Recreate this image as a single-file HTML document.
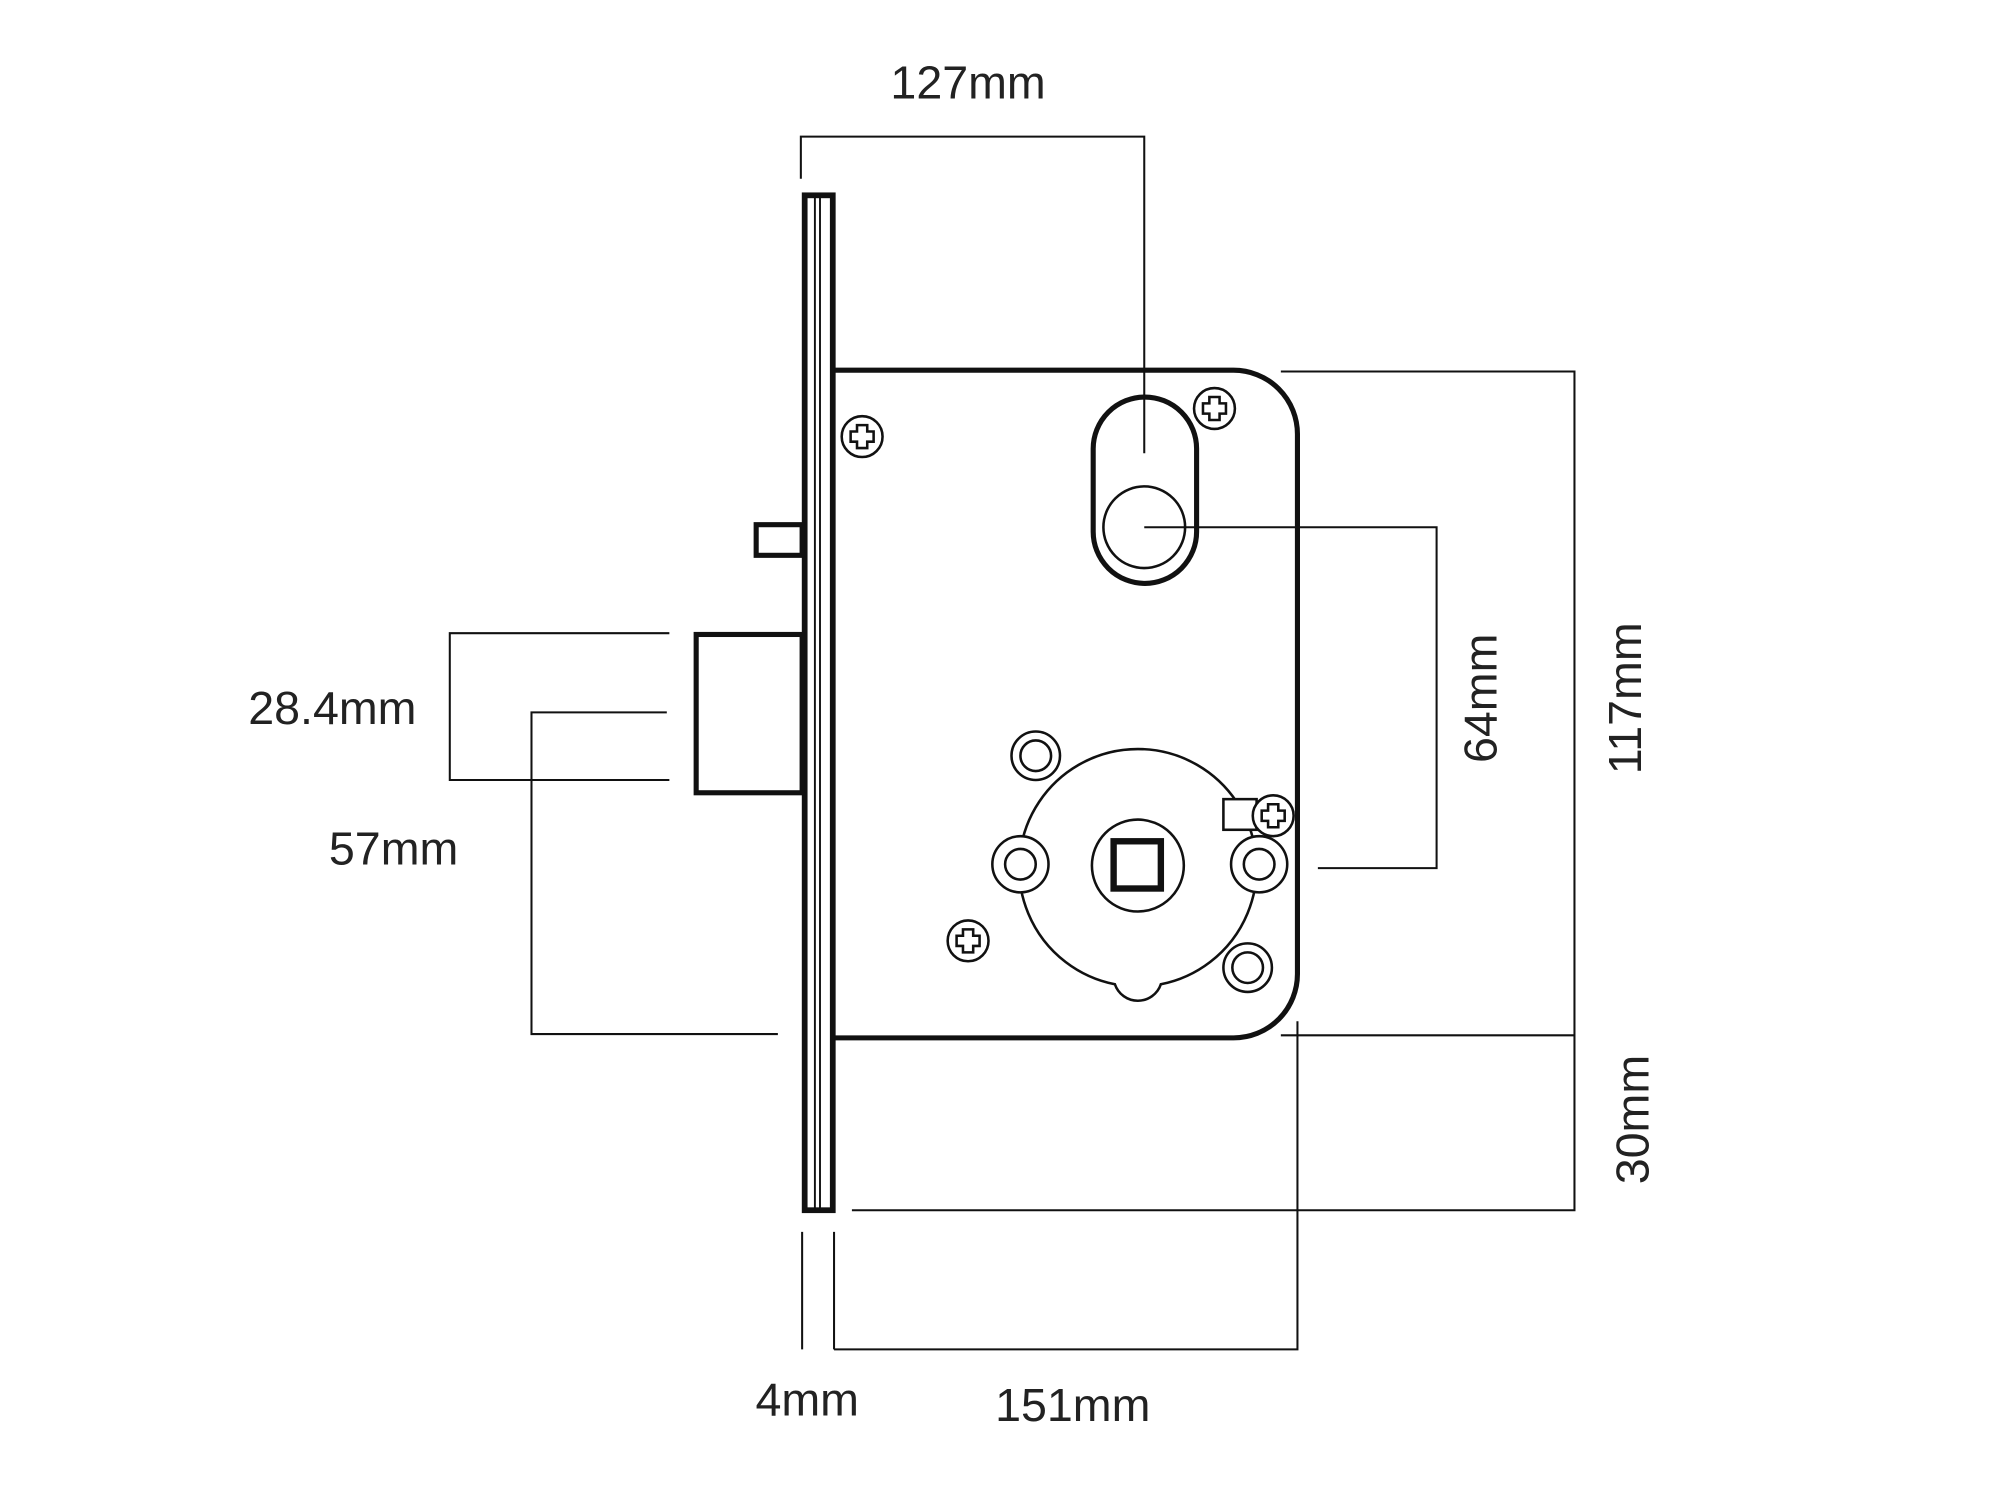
<!DOCTYPE html>
<html><head><meta charset="utf-8"><style>
html,body{margin:0;padding:0;background:#fff;}
svg{display:block;}
text{font-family:"Liberation Sans",sans-serif;fill:#222;font-size:36.5px;}
</style></head><body>
<svg width="2000" height="1500" viewBox="0 0 1566 1175" xmlns="http://www.w3.org/2000/svg">
<g fill="none" stroke="#111">
<g stroke-width="1.6">
<polyline points="627,140 627,107 896,107 896,355"/>
<polyline points="896,413 1125,413 1125,680 1032,680"/>
<polyline points="1003,291 1233,291 1233,948 667,948"/>
<line x1="1003" y1="811" x2="1233" y2="811"/>
<polyline points="1016,800 1016,1057 653,1057"/>
<line x1="628" y1="965" x2="628" y2="1057"/>
<line x1="653" y1="965" x2="653" y2="1057"/>
<polyline points="524,496 352,496 352,611 524,611"/>
<polyline points="522,558 416,558 416,810 609,810"/>
</g>
<rect x="630" y="153" width="22" height="795" stroke-width="4.5"/>
<line x1="638" y1="153" x2="638" y2="948" stroke-width="1.5"/>
<line x1="642" y1="153" x2="642" y2="948" stroke-width="1.5"/>
<path d="M653,290 L966,290 A50,50 0 0 1 1016,340 L1016,763 A50,50 0 0 1 966,813 L653,813" stroke-width="4"/>
<rect x="592" y="411" width="36" height="24" stroke-width="4"/>
<rect x="545" y="497" width="83" height="124" stroke-width="4"/>
<rect x="856" y="311" width="81" height="146" rx="40.5" stroke-width="4"/>
<circle cx="896" cy="413" r="32" stroke-width="2"/>
<path d="M873,771 A93,93 0 1 1 909,771 A19,19 0 0 1 873,771 Z" stroke-width="2"/>
<circle cx="891" cy="678" r="36" stroke-width="2"/>
<rect x="872" y="659" width="37" height="37" stroke-width="5"/>
<g stroke-width="2" fill="#fff">
<circle cx="811" cy="592" r="19"/><circle cx="811" cy="592" r="12"/>
<circle cx="799" cy="677" r="22"/><circle cx="799" cy="677" r="12"/>
<circle cx="986" cy="677" r="22"/><circle cx="986" cy="677" r="12"/>
<circle cx="977" cy="758" r="19"/><circle cx="977" cy="758" r="12"/>
<rect x="958" y="626" width="26" height="24"/>
</g>
<g stroke-width="2" fill="#fff">
<circle cx="675" cy="342" r="16"/>
<circle cx="951" cy="320" r="16"/>
<circle cx="758" cy="737" r="16"/>
<circle cx="997" cy="639" r="16"/>
</g>
<g stroke-width="2">
<path d="M671,333h8v5h5v8h-5v5h-8v-5h-5v-8h5z"/>
<path d="M947,311h8v5h5v8h-5v5h-8v-5h-5v-8h5z"/>
<path d="M754,728h8v5h5v8h-5v5h-8v-5h-5v-8h5z"/>
<path d="M993,630h8v5h5v8h-5v5h-8v-5h-5v-8h5z"/>
</g>
</g>
<text x="758" y="77" text-anchor="middle">127mm</text>
<text x="260" y="567" text-anchor="middle">28.4mm</text>
<text x="308" y="677" text-anchor="middle">57mm</text>
<text x="632" y="1109" text-anchor="middle">4mm</text>
<text x="840" y="1113" text-anchor="middle">151mm</text>
<text transform="translate(1172,547) rotate(-90)" text-anchor="middle">64mm</text>
<text transform="translate(1285,547) rotate(-90)" text-anchor="middle">117mm</text>
<text transform="translate(1291,877) rotate(-90)" text-anchor="middle">30mm</text>
</svg>
</body></html>
